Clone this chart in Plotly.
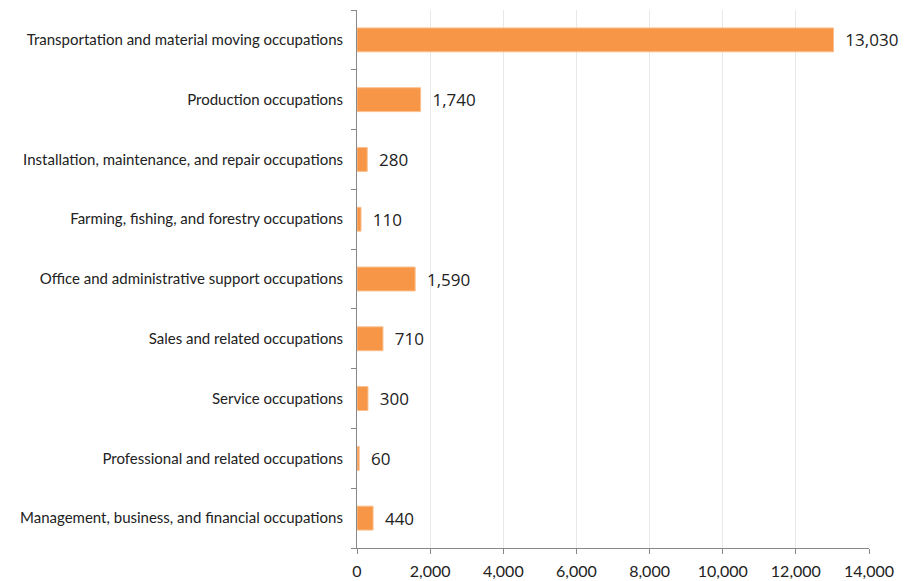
import plotly.graph_objects as go

categories = [
    "Management, business, and financial occupations",
    "Professional and related occupations",
    "Service occupations",
    "Sales and related occupations",
    "Office and administrative support occupations",
    "Farming, fishing, and forestry occupations",
    "Installation, maintenance, and repair occupations",
    "Production occupations",
    "Transportation and material moving occupations",
]
values = [440, 60, 300, 710, 1590, 110, 280, 1740, 13030]
x_ticks = [0, 2000, 4000, 6000, 8000, 10000, 12000, 14000]

fig = go.Figure(go.Bar(
    x=values,
    y=categories,
    orientation="h",
    marker=dict(color="#F79646", line=dict(color="#FAC090", width=1)),
    text=["  " + f"{v:,}" for v in values],
    textposition="outside",
    textfont=dict(family="Open Sans, sans-serif", size=17, color="#222222"),
    cliponaxis=False,
    width=0.4,
))

fig.update_layout(
    width=919, height=581,
    margin=dict(l=357, r=50, t=10, b=33),
    plot_bgcolor="white", paper_bgcolor="white",
    showlegend=False,
    font=dict(family="Lato, Liberation Sans, sans-serif", color="#222222"),
)
fig.update_xaxes(
    range=[0, 14000], tickvals=x_ticks, tickformat=",",
    showgrid=True, gridcolor="#E8E8E8", gridwidth=1,
    showline=True, linecolor="#888888", linewidth=1,
    ticks="outside", ticklen=5, tickcolor="#888888",
    tickfont=dict(size=16, family="Lato, sans-serif"),
    ticklabelstandoff=4,
    zeroline=False,
    automargin=False,
)
fig.update_yaxes(
    categoryorder="array", categoryarray=categories,
    showline=True, linecolor="#888888", linewidth=1,
    ticks="outside", ticklen=5, tickcolor="#888888", tickson="boundaries",
    tickfont=dict(size=15, family="Lato, sans-serif"),
    ticklabelstandoff=10,
    showgrid=False,
    automargin=False,
)
fig.write_html("out.html", post_script="document.body.style.margin='0';",
               config={"displayModeBar": False})
